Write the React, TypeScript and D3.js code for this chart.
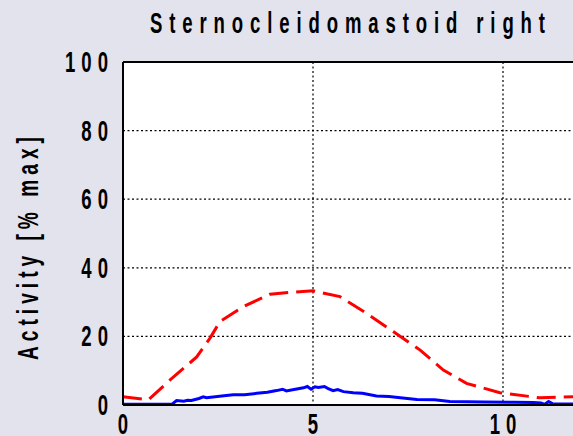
import * as d3 from "d3";

const W = 573;
const H = 436;
const M = { left: 123, top: 62, bottom: 31 };

const title = "Sternocleidomastoid right";
const yLabel = "Activity [% max]";
const yTicks = [0, 20, 40, 60, 80, 100];
const xTicks = [0, 5, 10];

const redX = [0, 0.67, 1.24, 1.94, 2.29, 2.55, 3.17, 3.87, 4.48, 5.0, 5.71, 6.41, 7.11, 7.82, 8.43, 9.04, 9.92, 10.97, 11.84, 12.5];
const redY = [2.4, 1.5, 7.3, 14, 19.5, 24.3, 28.7, 32.3, 32.9, 33.3, 31.6, 26.7, 21.4, 16, 10.2, 6.3, 3.6, 2.1, 2.4, 2.4];

const blueX = [0, 1.3, 1.41, 1.6, 1.7, 1.8, 2.0, 2.11, 2.2, 2.6, 2.9, 3.2, 3.52, 3.8, 4.04, 4.2, 4.3, 4.5, 4.75, 4.85, 4.95, 5.05, 5.14, 5.3, 5.4, 5.53, 5.65, 5.8, 6.06, 6.3, 6.67, 7.0, 7.3, 7.73, 8.2, 8.6, 9.5, 10.3, 10.8, 11.0, 11.1, 11.2, 11.3, 11.5, 12.5];
const blueY = [0.2, 0.3, 1.3, 1.1, 1.4, 1.3, 1.9, 2.4, 2.1, 2.6, 3.0, 3.0, 3.4, 3.7, 4.2, 4.6, 4.1, 4.5, 5.0, 5.4, 4.6, 5.3, 5.1, 5.4, 4.8, 4.2, 4.5, 3.9, 3.6, 3.4, 2.6, 2.5, 2.1, 1.6, 1.5, 1.0, 0.9, 0.8, 0.7, 0.6, 0.2, 1.0, 0.4, 0.3, 0.3];

const FONT = "'Liberation Sans', Arial, sans-serif";
const SX = 0.64; // horizontal squeeze to mimic the condensed font

// condensed text: glyphs squeezed horizontally, spacing in screen px
function Narrow(props: {
  x: number;
  y: number;
  text: string;
  size: number;
  spacing: number;
  anchor?: "start" | "middle" | "end";
}) {
  const { x, y, text, size, spacing, anchor = "start" } = props;
  // letter-spacing is added after the last glyph too; compensate
  const shift = anchor === "end" ? spacing : anchor === "middle" ? spacing / 2 : 0;
  return (
    <g transform={`translate(${x + shift},${y}) scale(${SX},1)`}>
      <text
        textAnchor={anchor}
        fontFamily={FONT}
        fontWeight="bold"
        fontSize={size}
        letterSpacing={spacing / SX}
        fill="#000"
      >
        {text}
      </text>
    </g>
  );
}

export default function App() {
  const x = d3.scaleLinear().domain([0, 12.5]).range([M.left, M.left + 12.5 * 38]);
  const y = d3.scaleLinear().domain([0, 100]).range([H - M.bottom, M.top]);

  const redLine = d3
    .line<number>()
    .x((_, i) => x(redX[i]))
    .y((d) => y(d));
  const blueLine = d3
    .line<number>()
    .x((_, i) => x(blueX[i]))
    .y((d) => y(d));

  const x0 = x(0);
  const xEnd = W + 10;
  const y0 = y(0);

  return (
    <svg
      width={W}
      height={H}
      style={{ position: "absolute", left: 0, top: 0, display: "block" }}
    >
      <rect width={W} height={H} fill="#e3e3ee" />
      <rect x={x0} y={y(100)} width={xEnd - x0} height={y0 - y(100)} fill="#ffffff" />

      {/* grid */}
      {yTicks
        .filter((t) => t > 0 && t < 100)
        .map((t) => (
          <line
            key={"gy" + t}
            x1={x0}
            x2={xEnd}
            y1={y(t)}
            y2={y(t)}
            stroke="#000"
            strokeWidth={1.2}
            strokeDasharray="2,2.5"
          />
        ))}
      {xTicks
        .filter((t) => t > 0)
        .map((t) => (
          <line
            key={"gx" + t}
            x1={x(t)}
            x2={x(t)}
            y1={y(100)}
            y2={y0}
            stroke="#000"
            strokeWidth={1.2}
            strokeDasharray="2,2.5"
          />
        ))}

      {/* data */}
      <path
        d={redLine(redY) ?? ""}
        fill="none"
        stroke="#ff0000"
        strokeWidth={3}
        strokeDasharray="19,8"
      />
      <path d={blueLine(blueY) ?? ""} fill="none" stroke="#0000ff" strokeWidth={3} />

      {/* frame */}
      <line x1={x0} x2={xEnd} y1={y(100)} y2={y(100)} stroke="#000" strokeWidth={2} />
      <line x1={x0} x2={x0} y1={y(100)} y2={y0} stroke="#000" strokeWidth={2} />
      <line x1={x0} x2={xEnd} y1={y0} y2={y0} stroke="#000" strokeWidth={2} />

      {/* y tick labels */}
      {yTicks.map((t) => (
        <Narrow key={"ty" + t} x={108} y={y(t) + 10} text={String(t)} size={29} spacing={6} anchor="end" />
      ))}

      {/* x tick labels */}
      {xTicks.map((t) => (
        <Narrow key={"tx" + t} x={x(t)} y={434} text={String(t)} size={29} spacing={6} anchor="middle" />
      ))}

      {/* title */}
      <g transform={`translate(150,33) scale(${SX},1)`}>
        <text
          fontFamily={FONT}
          fontWeight="bold"
          fontSize={29}
          textLength={395 / SX}
          lengthAdjust="spacing"
          fill="#000"
        >
          {title}
        </text>
      </g>

      {/* y label */}
      <g transform={`translate(38,360) rotate(-90) scale(${SX},1)`}>
        <text
          fontFamily={FONT}
          fontWeight="bold"
          fontSize={30}
          textLength={223 / SX}
          lengthAdjust="spacing"
          fill="#000"
        >
          {yLabel}
        </text>
      </g>
    </svg>
  );
}
